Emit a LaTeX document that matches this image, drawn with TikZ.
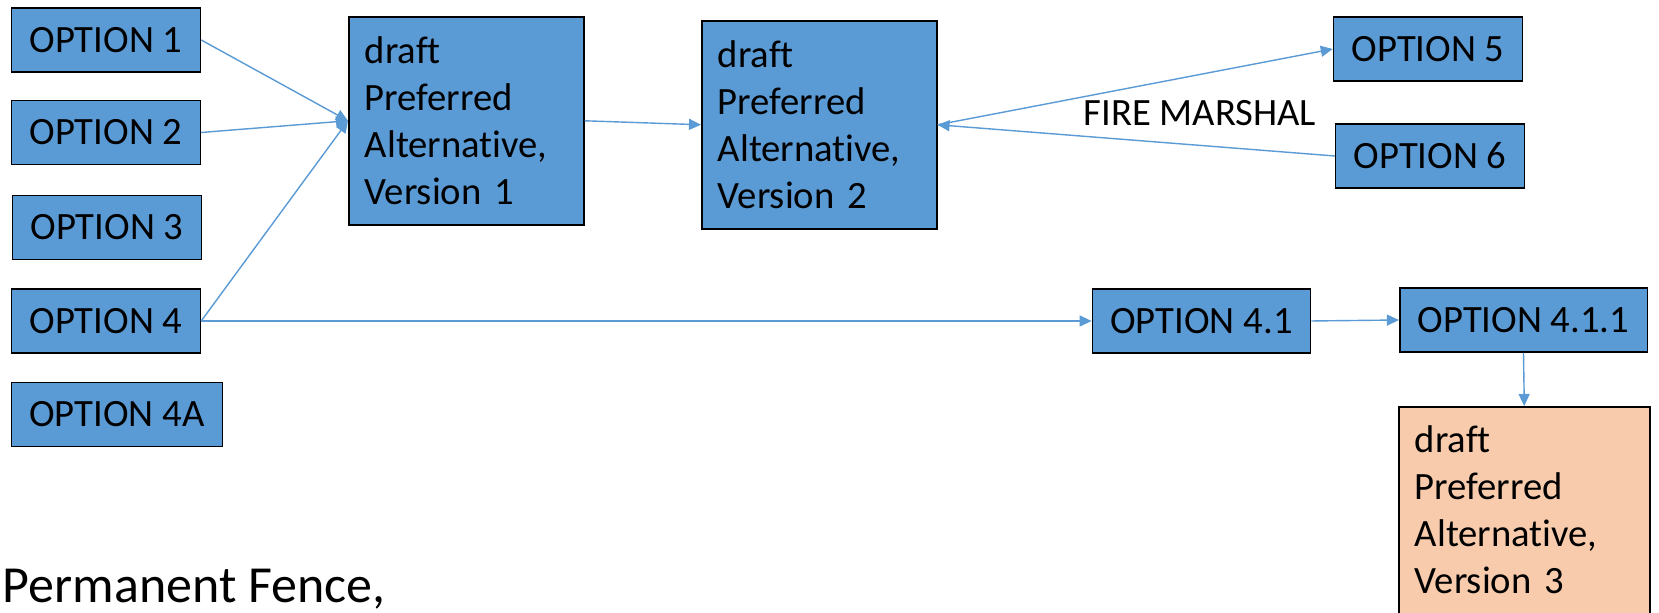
\documentclass[tikz,border=0pt]{standalone}
\usepackage{fontspec}
\setmainfont{Carlito}[Ligatures=NoCommon]
\usepackage{xcolor}
\usetikzlibrary{arrows.meta}
\definecolor{optblue}{HTML}{5B9BD5}
\definecolor{peach}{HTML}{F8CBAD}

\begin{document}
\begin{tikzpicture}%%options

                \tikzstyle{option}  = [rectangle, draw=black, line width=0.45pt, fill=optblue, inner xsep=0.18cm, minimum height=0.64cm, font=\fontsize{11}{13.4}\selectfont]
                \tikzstyle{altbox}  = [rectangle, draw=black, line width=0.45pt, fill=optblue, anchor=north west, inner xsep=0.16cm, text width=2.03cm, align=left, minimum height=2.08cm, font=\fontsize{11}{13.4}\selectfont]
                \tikzstyle{link}    = [draw=optblue, line width=0.4pt, -{Triangle[length=0.12cm, width=0.11cm]}]
                \useasboundingbox[fill=white] (0,0) rectangle (16.59,-6.13);

                \node [option](opt1) at (1.06,-0.40) {OPTION 1};
                \node [option](opt2) at (1.06,-1.325) {OPTION 2};
                \node [option](opt3) at (1.07,-2.275) {OPTION 3};
                \node [option](opt4) at (1.06,-3.21) {OPTION 4};
                \node [option](opt4a) at (1.17,-4.145) {OPTION 4A};

                \node [altbox](verone) at (3.48,-0.16) {draft\\Preferred\\Alternative,\\Version 1};
                \node [altbox](vertwo) at (7.01,-0.20) {draft\\Preferred\\Alternative,\\Version 2};

                \node [option](opt5) at (14.28,-0.49) {OPTION 5};
                \node [option](opt6) at (14.30,-1.56) {OPTION 6};
                \node [font=\fontsize{11}{13.4}\selectfont, anchor=base](fire) at (12.00,-1.26) {FIRE MARSHAL};

                \node [option](opt41) at (12.015,-3.21) {OPTION 4.1};
                \node [option](opt411) at (15.235,-3.20) {OPTION 4.1.1};
                \node [altbox, fill=peach, text width=2.19cm, minimum height=0pt, inner ysep=0.19cm, text depth=2.1cm](verthree) at (13.98,-4.06) {draft\\Preferred\\Alternative,\\Version 3};

                \node [font=\fontsize{14.8}{18}\selectfont, anchor=base west, inner sep=0pt](fence) at (0.02,-6.03) {Permanent Fence,};

                \foreach \i in {1,2,4}
                {
                        \draw [link] (opt\i.east) -- (verone.west);
                }
                \draw [link] (verone.east) -- (vertwo.west);
                \draw [link] (vertwo.east) -- (opt5.west);
                \draw [link] (opt6.west) -- (vertwo.east);
                \draw [link] (opt4.east) -- (opt41.west);
                \draw [link] (opt41.east) -- (opt411.west);
                \draw [link] (opt411.south) -- (verthree.north);
\end{tikzpicture}
\end{document}
